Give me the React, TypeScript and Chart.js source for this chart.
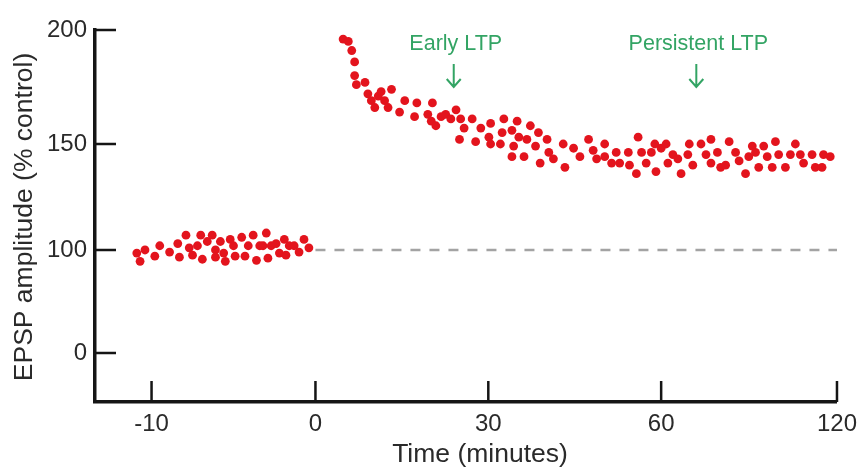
import React, { useEffect, useRef } from 'react';
import { Chart, registerables, LinearScale } from 'chart.js';

// ---------- data ----------
const BASE_TIME = [-10.7, -10.9, -10.4, -9.8, -9.5, -8.9, -8.4, -8.3, -7.9, -7.7, -7.5, -7.2, -7.0, -6.9, -6.6, -6.3, -6.1, -6.1, -5.8, -5.6, -5.5, -5.2, -5.0, -4.9, -4.5, -4.3, -4.1, -3.8, -3.6, -3.4, -3.2, -3.0, -2.9, -2.7, -2.4, -2.2, -1.9, -1.8, -1.6, -1.3, -1.0, -0.7, -0.4];
const BASE_EPSP = [89, 97, 100, 94, 102, 98, 103, 93, 107, 101, 95, 102, 107, 91, 104, 107, 100, 93, 104, 97, 89, 105, 102, 94, 106, 94, 102, 107, 90, 102, 102, 108, 92, 102, 103, 97, 105, 95, 102, 102, 98, 105, 101];

const POST_TIME = [4.3, 4.8, 5.7, 6.3, 6.8, 6.8, 7.1, 8.6, 9.1, 9.7, 10.3, 10.9, 11.4, 12.0, 12.6, 13.2, 14.6, 15.5, 17.2, 17.6, 19.5, 20.1, 20.3, 20.9, 21.8, 22.6, 23.5, 24.4, 25.0, 25.2, 25.8, 27.2, 27.8, 28.7, 30.1, 30.4, 30.4, 32.1, 32.4, 32.7, 34.1, 34.1, 34.4, 35.0, 35.3, 36.2, 36.7, 37.3, 38.2, 38.7, 39.0, 40.2, 40.5, 41.3, 43.0, 43.3, 44.8, 45.9, 47.4,
  48.2, 48.8, 50.2, 50.2, 51.4, 52.2, 52.8, 54.3, 54.5, 55.7, 56.0, 56.6, 57.4, 58.3, 58.9, 59.1, 60.0, 61.7, 62.3, 64.0, 65.7, 66.8, 69.1, 69.6, 70.8, 73.6, 75.3, 77.0, 77.0, 79.2, 80.3, 82.0, 83.2, 85.4, 86.6, 88.8, 89.9, 91.1, 92.2, 93.3, 95.0, 96.2, 97.9, 99.0, 100.1, 102.4, 104.1, 105.8, 107.5, 108.6, 111.5, 112.6, 114.9, 115.4, 117.7];
const POST_EPSP = [203, 196, 195, 191, 186, 180, 176, 177, 172, 169, 166, 171, 173, 169, 166, 174, 164, 169, 162, 168, 163, 160, 168, 158, 162, 163, 161, 165, 152, 161, 157, 161, 151, 157, 153, 159, 150, 150, 155, 161, 156, 144, 149, 160, 153, 144, 152, 158, 149, 155, 141, 152, 146, 143, 150, 139, 148, 144, 152,
  147, 143, 150, 144, 141, 146, 141, 146, 140, 136, 153, 146, 141, 146, 150, 137, 148, 150, 141, 145, 143, 136, 145, 150, 140, 150, 145, 152, 141, 146, 139, 140, 151, 146, 142, 136, 144, 149, 146, 139, 149, 144, 139, 151, 145, 139, 145, 150, 145, 141, 145, 139, 139, 145, 144];

const CONTROL_LEVEL = 100;
const CONTROL_SPAN = [0, 120];

const X_TICKS = [-10, 0, 30, 60, 120];
const Y_TICKS = [0, 100, 150, 200];

const X_TITLE = 'Time (minutes)';
const Y_TITLE = 'EPSP amplitude (% control)';
const ANNOT_LABELS = ['Early LTP', 'Persistent LTP'];
const ANNOT_TIMES = [24, 72];

// ---------- broken (piecewise) axis layout ----------
const X_BREAKS = [-10, 0, 30, 60, 120];
const X_BREAK_LEN = [-165, 0, 174, 348, 525];
const Y_BREAKS = [0, 100, 150, 200];
const Y_BREAK_LEN = [0, 103, 209, 323];

function warp(from: number[], to: number[], v: number) {
  const n = from.length;
  let i = 0;
  if (v <= from[0]) i = 0;
  else if (v >= from[n - 1]) i = n - 2;
  else { while (i < n - 2 && v > from[i + 1]) i++; }
  const t = (v - from[i]) / (from[i + 1] - from[i]);
  return to[i] + t * (to[i + 1] - to[i]);
}

class BrokenScale extends LinearScale {
  static id = 'broken';
  _maps(): [number[], number[]] {
    return (this as any).axis === 'x' ? [X_BREAKS, X_BREAK_LEN] : [Y_BREAKS, Y_BREAK_LEN];
  }
  getPixelForValue(value: any) {
    if (value === null || value === undefined || isNaN(value)) return NaN;
    const [b, p] = this._maps();
    const u0 = warp(b, p, (this as any).min), u1 = warp(b, p, (this as any).max);
    return (this as any).getPixelForDecimal((warp(b, p, +value) - u0) / (u1 - u0));
  }
  getValueForPixel(pixel: number) {
    const [b, p] = this._maps();
    const u0 = warp(b, p, (this as any).min), u1 = warp(b, p, (this as any).max);
    const u = u0 + (this as any).getDecimalForPixel(pixel) * (u1 - u0);
    return warp(p, b, u);
  }
}

Chart.register(...registerables, BrokenScale as any);

const FONT = '"Liberation Sans", Arial, Helvetica, sans-serif';
const RED = '#e3141d';
const GREEN = '#33a464';
const TEXT = '#2a2a2a';
const TICK_LEN = 21;

const overlayPlugin = {
  id: 'overlay',
  afterDatasetsDraw(chart: any) {
    const { ctx, chartArea: a, scales } = chart;
    const xs = scales.x, ys = scales.y;
    ctx.save();
    ctx.strokeStyle = '#151515';
    ctx.lineWidth = 2.5;
    ctx.beginPath();
    X_TICKS.forEach((v) => {
      const p = xs.getPixelForValue(v);
      ctx.moveTo(p, a.bottom);
      ctx.lineTo(p, a.bottom - TICK_LEN);
    });
    Y_TICKS.forEach((v) => {
      const p = ys.getPixelForValue(v);
      ctx.moveTo(a.left, p);
      ctx.lineTo(a.left + TICK_LEN, p);
    });
    ctx.stroke();

    // axis titles
    ctx.fillStyle = TEXT;
    ctx.font = '26.5px ' + FONT;
    ctx.textAlign = 'center';
    ctx.textBaseline = 'middle';
    ctx.fillText(X_TITLE, (a.left + a.right) / 2 + 14, chart.height - 14);
    ctx.save();
    ctx.translate(25, (a.top + a.bottom) / 2 + 1);
    ctx.rotate(-Math.PI / 2);
    ctx.fillText(Y_TITLE, 0, 0);
    ctx.restore();

    // annotations
    ctx.fillStyle = GREEN;
    ctx.strokeStyle = GREEN;
    ctx.lineWidth = 2;
    ctx.font = '21.5px ' + FONT;
    ANNOT_LABELS.forEach((label, i) => {
      const px = xs.getPixelForValue(ANNOT_TIMES[i]);
      ctx.fillText(label, px + 2, a.top + 14);
      const y0 = a.top + 34, y1 = a.top + 57;
      ctx.beginPath();
      ctx.moveTo(px, y0);
      ctx.lineTo(px, y1);
      ctx.moveTo(px - 7, y1 - 8);
      ctx.lineTo(px, y1);
      ctx.lineTo(px + 7, y1 - 8);
      ctx.stroke();
    });
    ctx.restore();
  },
};

export default function App() {
  const ref = useRef<HTMLCanvasElement | null>(null);
  useEffect(() => {
    document.body.style.margin = '0';
    Chart.defaults.font.family = FONT;
    const points = [
      ...BASE_TIME.map((t, i) => ({ x: t, y: BASE_EPSP[i] })),
      ...POST_TIME.map((t, i) => ({ x: t, y: POST_EPSP[i] })),
    ];
    const chart = new Chart(ref.current as HTMLCanvasElement, {
      type: 'scatter',
      data: {
        datasets: [
          {
            type: 'scatter',
            data: points,
            pointRadius: 4.4,
            pointBackgroundColor: RED,
            pointBorderColor: RED,
            pointBorderWidth: 0,
            clip: false,
          } as any,
          {
            type: 'line',
            data: CONTROL_SPAN.map((t) => ({ x: t, y: CONTROL_LEVEL })),
            borderColor: '#a3a3a3',
            borderWidth: 2.5,
            borderDash: [10, 9],
            pointRadius: 0,
            fill: false,
          } as any,
        ],
      },
      options: {
        animation: false,
        responsive: false,
        events: [],
        layout: { padding: { left: 0, top: 30, right: 23, bottom: 0 } },
        plugins: { legend: { display: false }, tooltip: { enabled: false } },
        scales: {
          x: {
            type: 'broken' as any,
            min: -13.45,
            max: 120,
            bounds: 'data',
            afterFit: (s: any) => { s.height = 67; },
            afterBuildTicks: (s: any) => { s.ticks = X_TICKS.map((v) => ({ value: v })); },
            grid: { display: false, drawTicks: false },
            border: { display: true, color: '#151515', width: 3.5 },
            ticks: {
              autoSkip: false,
              maxRotation: 0,
              padding: 8,
              color: TEXT,
              font: { size: 24 },
              callback: (v: any) => String(v),
            },
            title: { display: false },
          } as any,
          y: {
            type: 'broken' as any,
            min: -47.6,
            max: 200,
            bounds: 'data',
            afterFit: (s: any) => { s.width = 95; },
            afterBuildTicks: (s: any) => { s.ticks = Y_TICKS.map((v) => ({ value: v })); },
            grid: { display: false, drawTicks: false },
            border: { display: true, color: '#151515', width: 3.5 },
            ticks: {
              autoSkip: false,
              padding: 8,
              color: TEXT,
              font: { size: 24 },
              callback: (v: any) => String(v),
            },
            title: { display: false },
          } as any,
        },
      },
      plugins: [overlayPlugin],
    });
    return () => chart.destroy();
  }, []);
  return (
    <div style={{ width: 865, height: 469 }}>
      <canvas ref={ref} width={865} height={469} />
    </div>
  );
}
